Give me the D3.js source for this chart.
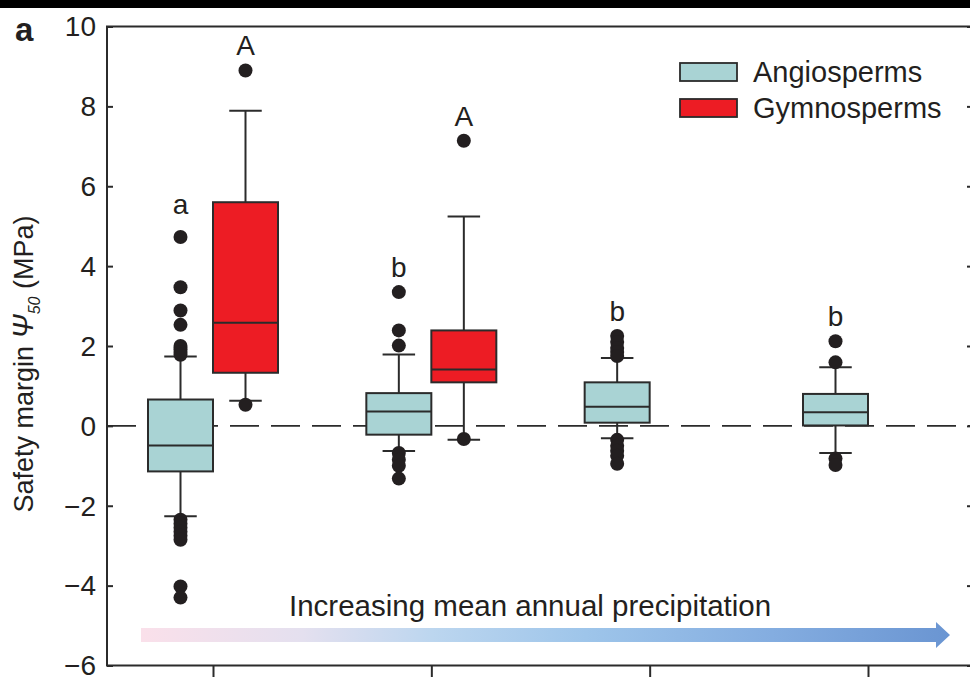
<!DOCTYPE html>
<html>
<head>
<meta charset="utf-8">
<script src="https://cdn.jsdelivr.net/npm/d3@7"></script>
<style>
  html, body { margin: 0; padding: 0; background: #fff; }
  svg { display: block; }
  text { font-family: "Liberation Sans", Arial, Helvetica, sans-serif; fill: #231f20; }
</style>
</head>
<body>
<svg id="chart" width="970" height="677"></svg>
<script>
// Precipitation classes (driest to wettest)
const precipClasses = [1, 2, 3, 4];

// Angiosperm box statistics per precipitation class (MPa)
const angioWhiskerLow  = [-2.26, -0.63, -0.31, -0.68];
const angioQ1          = [-1.14, -0.22,  0.08,  0.01];
const angioMedian      = [-0.49,  0.36,  0.48,  0.34];
const angioQ3          = [ 0.66,  0.82,  1.09,  0.80];
const angioWhiskerHigh = [ 1.74,  1.79,  1.70,  1.47];
const angioOutliers = [
  [4.73, 3.47, 2.89, 2.53, 2.0, 1.92, 1.85, 1.78,
   -2.35, -2.45, -2.55, -2.65, -2.75, -2.85, -4.02, -4.3],
  [3.35, 2.39, 2.01, -0.68, -0.85, -1.0, -1.32],
  [2.25, 2.1, 1.95, 1.85, 1.75, -0.35, -0.5, -0.62, -0.75, -0.95],
  [2.12, 1.59, -0.82, -0.98]
];
const angioLetters = ["a", "b", "b", "b"];

// Gymnosperm box statistics (only the two driest classes)
const gymnoClasses     = [1, 2];
const gymnoWhiskerLow  = [0.63, -0.35];
const gymnoQ1          = [1.33, 1.09];
const gymnoMedian      = [2.58, 1.41];
const gymnoQ3          = [5.6, 2.39];
const gymnoWhiskerHigh = [7.89, 5.24];
const gymnoOutliers    = [[8.9, 0.53], [7.14, -0.33]];
const gymnoLetters     = ["A", "A"];

const yTicks = [-6, -4, -2, 0, 2, 4, 6, 8, 10];
const seriesNames = ["Angiosperms", "Gymnosperms"];
const seriesColors = ["#a9d3d4", "#ed1c24"];

const svg = d3.select("#chart");
const W = 970, H = 677;
const frame = { left: 107, right: 973, top: 26.5, bottom: 665.5 };
const ink = "#2b2b2b";

const y = d3.scaleLinear().domain([-6, 10]).range([frame.bottom, frame.top]);
const x = d3.scalePoint().domain(precipClasses).range([213, 868]);
const boxW = 65;
const dodge = boxW / 2;

// top rule band
svg.append("rect").attr("x", 0).attr("y", 0).attr("width", W).attr("height", 8).attr("fill", "#000");

// gradient arrow
const defs = svg.append("defs");
const grad = defs.append("linearGradient").attr("id", "precip").attr("x1", "0%").attr("x2", "100%");
[[0, "#fae0ea"], [0.2, "#e4e0ef"], [0.36, "#bcd6ef"], [0.55, "#9ec5ea"], [0.78, "#84ade0"], [1, "#6a95d2"]]
  .forEach(([o, c]) => grad.append("stop").attr("offset", o).attr("stop-color", c));
const ax0 = 141, ax1 = 950, aHead = 936, aMid = 635;
svg.append("path")
  .attr("d", `M${ax0},${aMid - 7}H${aHead}V${aMid - 13}L${ax1},${aMid}L${aHead},${aMid + 13}V${aMid + 7}H${ax0}Z`)
  .attr("fill", "url(#precip)");
svg.append("text").attr("x", 289).attr("y", 616).attr("font-size", 29.5)
  .text("Increasing mean annual precipitation");

// zero line
svg.append("line")
  .attr("x1", frame.left).attr("x2", frame.right)
  .attr("y1", y(0)).attr("y2", y(0))
  .attr("stroke", ink).attr("stroke-width", 1.8).attr("stroke-dasharray", "29,12");

// axes
const gLeft = svg.append("g").attr("transform", `translate(${frame.left},0)`)
  .call(d3.axisLeft(y).tickValues(yTicks).tickSize(-6).tickPadding(11));
gLeft.selectAll("text").attr("font-size", 28).attr("fill", "#231f20").attr("dy", "0.33em")
  .style("font-family", "'Liberation Sans', Arial, sans-serif");
const gRight = svg.append("g").attr("transform", `translate(${frame.right},0)`)
  .call(d3.axisRight(y).tickValues(yTicks).tickSize(-6).tickFormat(""));
const gBottom = svg.append("g").attr("transform", `translate(0,${frame.bottom})`)
  .call(d3.axisBottom(x).tickSize(12).tickFormat(""));
[gLeft, gRight, gBottom].forEach(g => {
  g.select(".domain").remove();
  g.selectAll("line").attr("stroke", ink).attr("stroke-width", 2);
});
// frame lines
svg.append("path")
  .attr("d", `M${frame.left},${frame.bottom}V${frame.top}H${frame.right}V${frame.bottom}Z`)
  .attr("fill", "none").attr("stroke", ink).attr("stroke-width", 2);

// y axis title
const yt = svg.append("text")
  .attr("transform", `translate(33,${364}) rotate(-90)`)
  .attr("text-anchor", "middle").attr("font-size", 27);
yt.append("tspan").text("Safety margin ");
yt.append("tspan").attr("font-style", "italic").attr("font-size", 29).text("Ψ");
yt.append("tspan").attr("font-style", "italic").attr("font-size", 16).attr("dy", 7).text("50");
yt.append("tspan").attr("dy", -7).text(" (MPa)");

// panel label
svg.append("text").attr("x", 15).attr("y", 41).attr("font-size", 33).attr("font-weight", "bold").text("a");

// boxes
function drawBoxes(classes, lo, q1, med, q3, hi, outl, letters, color, offset) {
  const g = svg.append("g");
  classes.forEach((c, i) => {
    const cx = x(c) + offset;
    const grp = g.append("g");
    // whiskers
    grp.append("line").attr("x1", cx).attr("x2", cx).attr("y1", y(hi[i])).attr("y2", y(q3[i]))
      .attr("stroke", ink).attr("stroke-width", 2);
    grp.append("line").attr("x1", cx).attr("x2", cx).attr("y1", y(q1[i])).attr("y2", y(lo[i]))
      .attr("stroke", ink).attr("stroke-width", 2);
    [hi[i], lo[i]].forEach(v => grp.append("line")
      .attr("x1", cx - boxW / 4).attr("x2", cx + boxW / 4).attr("y1", y(v)).attr("y2", y(v))
      .attr("stroke", ink).attr("stroke-width", 2));
    // box
    grp.append("rect").attr("x", cx - boxW / 2).attr("width", boxW)
      .attr("y", y(q3[i])).attr("height", y(q1[i]) - y(q3[i]))
      .attr("fill", color).attr("stroke", ink).attr("stroke-width", 2);
    grp.append("line").attr("x1", cx - boxW / 2).attr("x2", cx + boxW / 2)
      .attr("y1", y(med[i])).attr("y2", y(med[i])).attr("stroke", ink).attr("stroke-width", 2);
    // outliers
    grp.selectAll("circle.out").data(outl[i]).join("circle").attr("class", "out")
      .attr("cx", cx).attr("cy", d => y(d)).attr("r", 7).attr("fill", "#231f20");
    // significance letter
    const top = d3.max([hi[i], ...outl[i]]);
    grp.append("text").attr("x", cx).attr("y", y(top) - (letters[i] === "a" ? 23 : 15))
      .attr("text-anchor", "middle").attr("font-size", 28).text(letters[i]);
  });
}
drawBoxes(precipClasses, angioWhiskerLow, angioQ1, angioMedian, angioQ3, angioWhiskerHigh,
  angioOutliers, angioLetters, seriesColors[0], -dodge);
drawBoxes(gymnoClasses, gymnoWhiskerLow, gymnoQ1, gymnoMedian, gymnoQ3, gymnoWhiskerHigh,
  gymnoOutliers, gymnoLetters, seriesColors[1], dodge);

// legend
const leg = svg.append("g").attr("transform", "translate(680,63)");
seriesNames.forEach((n, i) => {
  leg.append("rect").attr("x", 0).attr("y", i * 36).attr("width", 57).attr("height", 18)
    .attr("fill", seriesColors[i]).attr("stroke", ink).attr("stroke-width", 1.8);
  leg.append("text").attr("x", 73).attr("y", i * 36 + 9).attr("dy", "0.35em")
    .attr("font-size", 29).text(n);
});
</script>
</body>
</html>
